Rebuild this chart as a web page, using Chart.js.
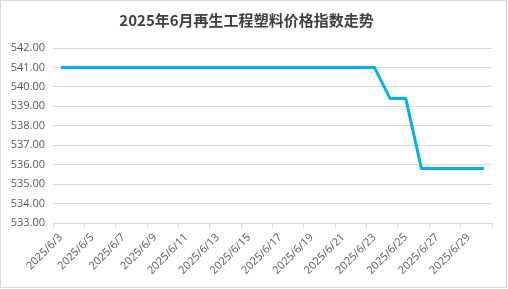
<!DOCTYPE html>
<html>
<head>
<meta charset="utf-8">
<script src="https://cdn.jsdelivr.net/npm/chart.js@4.4.1/dist/chart.umd.min.js"></script>
<style>
    html, body { margin: 0; padding: 0; background: #fff; }
    #frame {
        position: absolute;
        left: 0;
        top: 0;
        width: 505px;
        height: 286px;
        border: 1px solid #d9d9d9;
    }
    canvas { display: block; }
</style>
</head>
<body>
<div id="frame"><canvas id="indexChart" width="505" height="286"></canvas></div>
<script>
// Chart data
const chartTitle = '2025年6月再生工程塑料价格指数走势';
const dates = [
    '2025/6/3', '2025/6/4', '2025/6/5', '2025/6/6', '2025/6/7', '2025/6/8', '2025/6/9',
    '2025/6/10', '2025/6/11', '2025/6/12', '2025/6/13', '2025/6/14', '2025/6/15', '2025/6/16',
    '2025/6/17', '2025/6/18', '2025/6/19', '2025/6/20', '2025/6/21', '2025/6/22', '2025/6/23',
    '2025/6/24', '2025/6/25', '2025/6/26', '2025/6/27', '2025/6/28', '2025/6/29', '2025/6/30'
];
const indexValues = [
    541.0, 541.0, 541.0, 541.0, 541.0, 541.0, 541.0,
    541.0, 541.0, 541.0, 541.0, 541.0, 541.0, 541.0,
    541.0, 541.0, 541.0, 541.0, 541.0, 541.0, 541.0,
    539.4, 539.4, 535.8, 535.8, 535.8, 535.8, 535.8
];
const yMin = 533;
const yMax = 542;
const yStep = 1;

const gridColor = '#d9d9d9';
const labelColor = '#595959';

new Chart(document.getElementById('indexChart'), {
    type: 'line',
    data: {
        labels: dates,
        datasets: [{
            label: chartTitle,
            data: indexValues,
            borderColor: '#00b0f0',
            backgroundColor: '#00b0f0',
            borderWidth: 3,
            borderJoinStyle: 'round',
            pointRadius: 0,
            tension: 0,
            fill: false
        }]
    },
    options: {
        responsive: false,
        animation: false,
        layout: {
            padding: { left: 0, right: 14, top: 0, bottom: 0 }
        },
        plugins: {
            legend: { display: false },
            tooltip: { enabled: false },
            title: {
                display: true,
                text: chartTitle,
                color: '#404040',
                font: { family: '"Noto Sans CJK SC", sans-serif', size: 15, weight: 'bold' },
                padding: { top: 10, bottom: 19 }
            }
        },
        scales: {
            x: {
                offset: true,
                border: { display: true, color: gridColor },
                grid: {
                    offset: true,
                    drawOnChartArea: false,
                    drawTicks: true,
                    tickLength: 5,
                    color: function(ctx) {
                        // tick marks every two days, like the original axis
                        if (ctx.index === undefined || ctx.index % 2 === 0) return gridColor;
                        return 'rgba(0,0,0,0)';
                    }
                },
                ticks: {
                    autoSkip: false,
                    minRotation: 45,
                    maxRotation: 45,
                    padding: 3,
                    color: labelColor,
                    font: { family: '"Open Sans", sans-serif', size: 11 },
                    callback: function(value, index) {
                        return index % 2 === 0 ? this.getLabelForValue(value) : '';
                    }
                },
                afterFit: function(scale) {
                    scale.height = 64;
                }
            },
            y: {
                min: yMin,
                max: yMax,
                border: { display: false },
                grid: {
                    color: gridColor,
                    drawTicks: false
                },
                ticks: {
                    stepSize: yStep,
                    padding: 8,
                    color: labelColor,
                    font: { family: '"Open Sans", sans-serif', size: 11 },
                    callback: function(value) {
                        return Number(value).toFixed(2);
                    }
                },
                afterFit: function(scale) {
                    scale.width = 52;
                }
            }
        }
    }
});
</script>
</body>
</html>
